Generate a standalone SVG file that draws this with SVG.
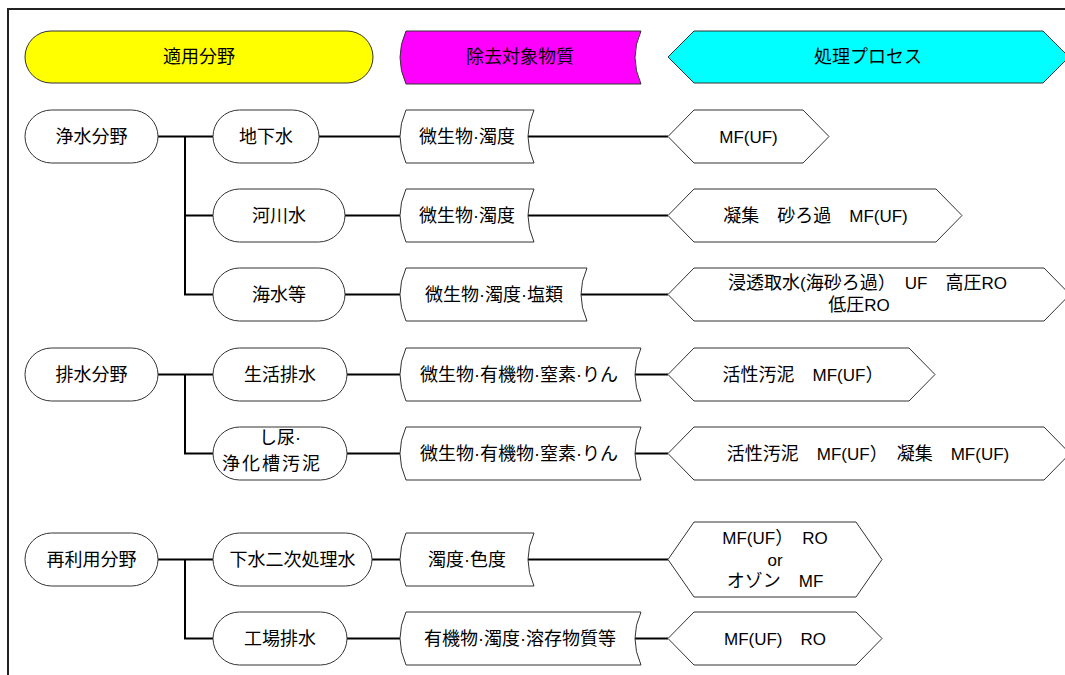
<svg xmlns="http://www.w3.org/2000/svg" width="1065" height="675" viewBox="0 0 1065 675">
<style>
.t{font-family:"Liberation Sans","Noto Sans CJK JP",sans-serif;font-size:18px;text-anchor:middle;fill:#000}
.l{font-size:17px}
.s{fill:#fff;stroke:#333;stroke-width:1}
.c{fill:none;stroke:#000;stroke-width:2}
</style>
<rect width="1065" height="675" fill="#fff"/>
<path d="M8 675V9H1065" fill="none" stroke="#222" stroke-width="2"/>
<g id="header-field"><rect x="25" y="31" width="348" height="52" rx="26" fill="#ff0" stroke="#333"/><text class="t" x="199" y="63">適用分野</text></g>
<g id="header-target"><path d="M406 31H641Q629 57.5 641 84H406Q394 57.5 406 31Z" fill="#f0f" stroke="#333"/><text class="t" x="520" y="63">除去対象物質</text></g>
<g id="header-process"><path d="M668 57L694 31H1043L1069 57L1043 83H694Z" fill="#0ff" stroke="#333"/><text class="t" x="868" y="63">処理プロセス</text></g>
<g id="connectors">
<path class="c" d="M158 136.5H213M185 136.5V294.5H213M185 215.5H213"/>
<path class="c" d="M158 374.5H213M185 374.5V453.5H213"/>
<path class="c" d="M158 559.5H213M185 559.5V638.5H213"/>
<path class="c" d="M319 136.5H400M345 215.5H400M345 294.5H400M347 374.5H400M347 453.5H400M372 559.5H400M347 638.5H400"/>
<path class="c" d="M528 136.5H668M528 215.5H668M581 294.5H668M635 374.5H668M635 453.5H668M528 559.5H668M635 638.5H668"/>
</g>
<g id="n-josui"><rect class="s" x="25" y="110" width="133" height="53" rx="26.5"/><text class="t" x="91.5" y="142.5">浄水分野</text></g>
<g id="n-haisui"><rect class="s" x="25" y="348" width="133" height="53" rx="26.5"/><text class="t" x="91.5" y="380.5">排水分野</text></g>
<g id="n-sairiyo"><rect class="s" x="25" y="533" width="133" height="53" rx="26.5"/><text class="t" x="91.5" y="565.5">再利用分野</text></g>
<g id="n-chikasui"><rect class="s" x="213" y="110" width="106" height="53" rx="26.5"/><text class="t" x="266" y="142.5">地下水</text></g>
<g id="n-kasensui"><rect class="s" x="213" y="189" width="132" height="53" rx="26.5"/><text class="t" x="279" y="221.5">河川水</text></g>
<g id="n-kaisui"><rect class="s" x="213" y="268" width="132" height="53" rx="26.5"/><text class="t" x="279" y="300.5">海水等</text></g>
<g id="n-seikatsu"><rect class="s" x="213" y="348" width="134" height="53" rx="26.5"/><text class="t" x="280" y="380.5">生活排水</text></g>
<g id="n-shinyo"><rect class="s" x="213" y="427" width="134" height="53" rx="26.5"/><text class="t" x="280" y="444">し尿·</text><text class="t" x="272" y="470" letter-spacing="2">浄化槽汚泥</text></g>
<g id="n-gesui"><rect class="s" x="213" y="533" width="159" height="53" rx="26.5"/><text class="t" x="292.5" y="565.5">下水二次処理水</text></g>
<g id="n-kojo"><rect class="s" x="213" y="612" width="134" height="53" rx="26.5"/><text class="t" x="280" y="644.5">工場排水</text></g>
<g id="m1"><path class="s" d="M406 110H534Q522 136.5 534 163H406Q394 136.5 406 110Z"/><text class="t" x="467" y="142.5">微生物·濁度</text></g>
<g id="m2"><path class="s" d="M406 189H534Q522 215.5 534 242H406Q394 215.5 406 189Z"/><text class="t" x="467" y="221.5">微生物·濁度</text></g>
<g id="m3"><path class="s" d="M406 268H587Q575 294.5 587 321H406Q394 294.5 406 268Z"/><text class="t" x="494" y="300.5">微生物·濁度·塩類</text></g>
<g id="m4"><path class="s" d="M406 348H641Q629 374.5 641 401H406Q394 374.5 406 348Z"/><text class="t" x="519" y="380.5">微生物·有機物·窒素·りん</text></g>
<g id="m5"><path class="s" d="M406 427H641Q629 453.5 641 480H406Q394 453.5 406 427Z"/><text class="t" x="519" y="459.5">微生物·有機物·窒素·りん</text></g>
<g id="m6"><path class="s" d="M406 533H534Q522 559.5 534 586H406Q394 559.5 406 533Z"/><text class="t" x="467" y="565.5">濁度·色度</text></g>
<g id="m7"><path class="s" d="M406 612H641Q629 638.5 641 665H406Q394 638.5 406 612Z"/><text class="t" x="520" y="644.5">有機物·濁度·溶存物質等</text></g>
<g id="p1"><path class="s" d="M668 136.5L694 110H803L829 136.5L803 163H694Z"/><text class="t" x="748.5" y="142.5"><tspan class="l">MF(UF)</tspan></text></g>
<g id="p2"><path class="s" d="M668 215.5L694 189H936L962 215.5L936 242H694Z"/><text class="t" x="815.5" y="221.5">凝集　砂ろ過　<tspan class="l">MF(UF)</tspan></text></g>
<g id="p3"><path class="s" d="M668 294.5L694 268H1044L1070 294.5L1044 321H694Z"/><text class="t" x="867.5" y="289">浸透取水<tspan class="l">(</tspan>海砂ろ過）　<tspan class="l">UF</tspan>　高圧<tspan class="l">RO</tspan></text><text class="t" x="859" y="311">低圧<tspan class="l">RO</tspan></text></g>
<g id="p4"><path class="s" d="M668 374.5L694 348H909L935 374.5L909 401H694Z"/><text class="t" x="803" y="380.5">活性汚泥　<tspan class="l">MF(UF</tspan>）</text></g>
<g id="p5"><path class="s" d="M668 453.5L694 427H1044L1070 453.5L1044 480H694Z"/><text class="t" x="868" y="459.5">活性汚泥　<tspan class="l">MF(UF</tspan>）　凝集　<tspan class="l">MF(UF)</tspan></text></g>
<g id="p6"><path class="s" d="M668 559.5L694 522H856L882 559.5L856 597H694Z"/><text class="t" x="775" y="544"><tspan class="l">MF(UF</tspan>）　<tspan class="l">RO</tspan></text><text class="t" x="775" y="565.5"><tspan class="l">or</tspan></text><text class="t" x="775" y="587">オゾン　<tspan class="l">MF</tspan></text></g>
<g id="p7"><path class="s" d="M668 638.5L694 612H856L882 638.5L856 665H694Z"/><text class="t" x="775" y="644.5"><tspan class="l">MF(UF)</tspan>　<tspan class="l">RO</tspan></text></g>
</svg>
